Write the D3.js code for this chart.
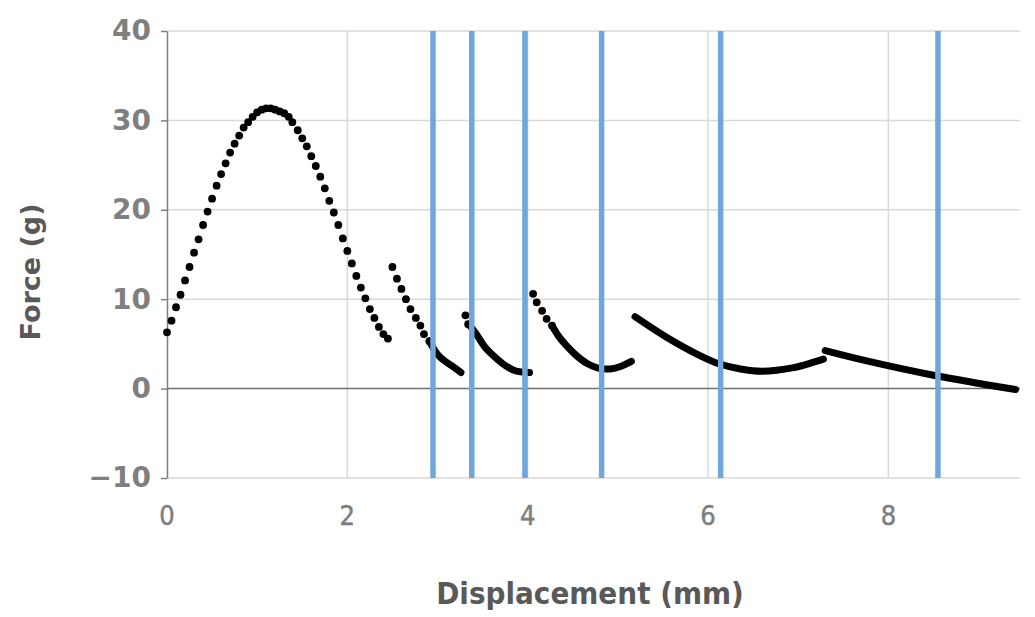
<!DOCTYPE html>
<html><head><meta charset="utf-8">
<script src="https://cdn.jsdelivr.net/npm/d3@7"></script>
<style>body{margin:0;background:#fff;}svg{display:block;}</style>
</head><body>
<svg id="c" width="1035" height="617"></svg>
<script>
// ---- data (displacement mm, force g) ----
const seg1Dots = [[0.00,6.3],[0.05,7.6],[0.10,9.1],[0.15,10.5],[0.20,12.1],[0.25,13.6],[0.30,15.2],[0.35,16.7],[0.40,18.3],[0.45,19.8],[0.50,21.25],[0.55,22.7],[0.60,24.0],[0.65,25.2],[0.70,26.4],[0.75,27.4],[0.80,28.3],[0.85,29.2],[0.90,29.8],[0.95,30.4],[1.00,30.9],[1.05,31.2],[1.10,31.35],[1.15,31.35],[1.20,31.2],[1.25,31.0],[1.30,30.8],[1.35,30.4],[1.39,29.8],[1.45,28.9],[1.50,28.0],[1.55,27.1],[1.60,26.0],[1.65,24.9],[1.70,23.7],[1.75,22.4],[1.80,21.0],[1.85,19.7],[1.90,18.3],[1.95,16.8],[2.00,15.4],[2.05,14.0],[2.10,12.6],[2.15,11.3],[2.20,10.1],[2.25,8.9],[2.30,7.9],[2.35,6.9],[2.40,6.1],[2.45,5.6]];
const seg2Dots = [[2.50,13.6],[2.55,12.3],[2.60,11.15],[2.65,10.0],[2.70,8.9],[2.76,7.9],[2.81,7.05],[2.85,6.1],[2.91,5.3]];
const seg2Trace = [[2.91,5.3],[2.97,4.25],[3.03,3.5],[3.10,2.95],[3.18,2.4],[3.26,1.8]];
const seg3Dots = [[3.31,8.2],[3.34,7.2]];
const seg3Trace = [[3.37,6.9],[3.43,6.1],[3.53,4.6],[3.64,3.5],[3.75,2.6],[3.86,2.0],[4.02,1.8]];
const seg4Dots = [[4.06,10.6],[4.10,9.65],[4.16,8.7],[4.21,7.8],[4.27,7.05]];
const seg4Trace = [[4.27,7.05],[4.34,5.9],[4.43,4.8],[4.54,3.7],[4.66,2.8],[4.78,2.3],[4.91,2.2],[5.02,2.45],[5.15,3.05]];
const seg5Trace = [[5.19,8.05],[5.54,5.75],[5.91,3.7],[6.13,2.75],[6.36,2.2],[6.60,1.95],[6.95,2.35],[7.17,2.95],[7.28,3.3]];
const seg6Trace = [[7.30,4.25],[7.76,3.1],[8.50,1.5],[9.41,-0.1]];
const markerX = [2.95, 3.38, 3.97, 4.82, 6.14, 8.55];
const xTicks = [0, 2, 4, 6, 8];
const yTicks = [-10, 0, 10, 20, 30, 40];
const xTitle = "Displacement (mm)";
const yTitle = "Force (g)";

// ---- layout ----
const L = 167, R = 1020, T = 31, B = 478;
const x = d3.scaleLinear().domain([0, 9.46]).range([L, R]);
const y = d3.scaleLinear().domain([-10, 40]).range([B, T]);
const svg = d3.select("#c");

// gridlines
svg.append("g").selectAll("line").data(yTicks.filter(d => d !== 0)).join("line")
  .attr("x1", L).attr("x2", R).attr("y1", d => y(d)).attr("y2", d => y(d))
  .attr("stroke", "#d9d9d9").attr("stroke-width", 1.5);
svg.append("g").selectAll("line").data(xTicks.filter(d => d !== 0)).join("line")
  .attr("x1", d => x(d)).attr("x2", d => x(d)).attr("y1", T).attr("y2", B)
  .attr("stroke", "#d9d9d9").attr("stroke-width", 1.5);

// left axis
const yAxis = d3.axisLeft(y).tickValues(yTicks).tickSize(6).tickSizeOuter(0).tickPadding(10);
const gy = svg.append("g").attr("transform", `translate(${L},0)`).call(yAxis);
gy.select(".domain").attr("stroke", "#7f7f7f").attr("stroke-width", 1.5);
gy.selectAll(".tick line").attr("stroke", "#7f7f7f").attr("stroke-width", 1.5);
gy.selectAll(".tick text").attr("fill", "#7f7f7f")
  .attr("font-family", "DejaVu Sans").attr("font-weight", "bold").attr("font-size", 28);

// zero line (horizontal axis)
svg.append("line").attr("x1", L).attr("x2", R).attr("y1", y(0)).attr("y2", y(0))
  .attr("stroke", "#6f6f6f").attr("stroke-width", 1.5);

// x tick labels
svg.append("g").selectAll("text").data(xTicks).join("text")
  .attr("x", d => x(d)).attr("y", 525).attr("text-anchor", "middle")
  .attr("font-family", "DejaVu Sans Condensed, DejaVu Sans").attr("font-stretch", "condensed")
  .attr("font-size", 27).attr("fill", "#7f7f7f").attr("stroke", "#7f7f7f").attr("stroke-width", 0.5)
  .text(d => d);

// data
const line = d3.line().x(d => x(d[0])).y(d => y(d[1])).curve(d3.curveCatmullRom);
[seg2Trace, seg3Trace, seg4Trace, seg5Trace, seg6Trace].forEach(s => {
  svg.append("path").datum(s).attr("d", line).attr("fill", "none")
    .attr("stroke", "#000").attr("stroke-width", 7).attr("stroke-linecap", "round").attr("stroke-linejoin", "round");
});
[seg1Dots, seg2Dots, seg3Dots, seg4Dots].forEach(s => {
  svg.append("g").selectAll("circle").data(s).join("circle")
    .attr("cx", d => x(d[0])).attr("cy", d => y(d[1])).attr("r", 3.9).attr("fill", "#000");
});

// vertical marker lines
svg.append("g").selectAll("line").data(markerX).join("line")
  .attr("x1", d => x(d)).attr("x2", d => x(d)).attr("y1", y(40)).attr("y2", y(-10))
  .attr("stroke", "#6fa6dc").attr("stroke-width", 5.5);

// titles
svg.append("text").attr("x", 590).attr("y", 604).attr("text-anchor", "middle")
  .attr("font-family", "DejaVu Sans Condensed, DejaVu Sans").attr("font-stretch", "condensed")
  .attr("font-weight", "bold").attr("font-size", 31).attr("fill", "#595959").text(xTitle);
svg.append("text").attr("transform", "translate(40,272) rotate(-90)").attr("text-anchor", "middle")
  .attr("font-family", "DejaVu Sans").attr("font-weight", "bold").attr("font-size", 27)
  .attr("fill", "#595959").text(yTitle);
</script>
</body></html>
